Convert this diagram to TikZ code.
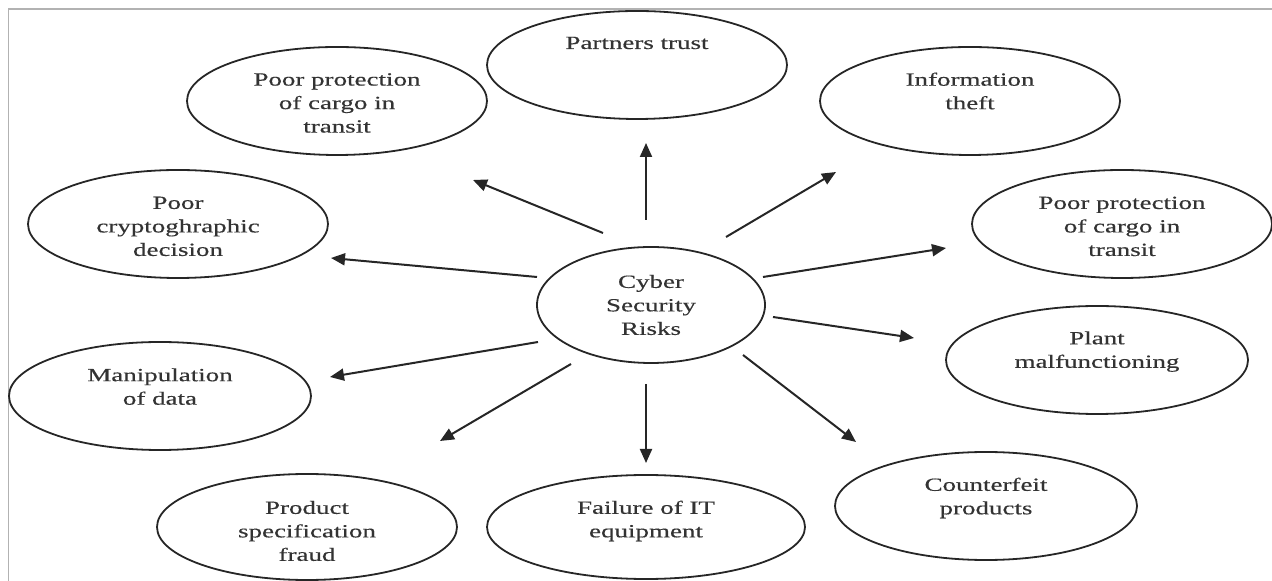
\documentclass[tikz,border=0pt]{standalone}
\usepackage{fontspec}
\setmainfont{Liberation Serif}[FakeStretch=1.45, FakeBold=0.4]
\usetikzlibrary{arrows.meta,shapes.geometric}

\begin{document}
\begin{tikzpicture}[x=0.5pt, y=-0.5pt,
    risk/.style={draw=black!85, ellipse, line width=0.9pt, inner sep=0pt,
      minimum width=150pt, minimum height=54pt},
    txt/.style={align=center, text=black!80, font=\fontsize{9.3}{11.75}\selectfont},
    arr/.style={-{Triangle[length=7pt,width=6pt]}, line width=1pt, draw=black!85}]

    \useasboundingbox (0,0) rectangle (1272,581);

    % frame
    \draw[gray!60, line width=0.8pt] (8.5,581) -- (8.5,9) -- (1272,9);

    % centre
    \node[risk, minimum width=114pt, minimum height=58pt,
      label={[txt, name=cyber-t]center:Cyber\\Security\\Risks}] (cyber) at (651,305) {};

    % risks around the centre
    \node[risk, label={[txt, yshift=11pt, name=trust-t]center:Partners trust}] (trust) at (637,65) {};
    \node[risk, label={[txt, yshift=-1pt, name=cargo1-t]center:Poor protection\\of cargo in\\transit}] (cargo1) at (337,101) {};
    \node[risk, label={[txt, yshift=5pt, name=theft-t]center:Information\\theft}] (theft) at (970,101) {};
    \node[risk, label={[txt, yshift=-1.2pt, name=crypto-t]center:Poor\\cryptoghraphic\\decision}] (crypto) at (178,224) {};
    \node[risk, label={[txt, yshift=-1.2pt, name=cargo2-t]center:Poor protection\\of cargo in\\transit}] (cargo2) at (1122,224) {};
    \node[risk, minimum width=151pt, label={[txt, yshift=4.2pt, name=plant-t]center:Plant\\malfunctioning}] (plant) at (1097,360) {};
    \node[risk, minimum width=151pt, label={[txt, yshift=4.7pt, name=manip-t]center:Manipulation\\of data}] (manip) at (160,396) {};
    \node[risk, minimum width=151pt, label={[txt, yshift=4pt, name=fake-t]center:Counterfeit\\products}] (fake) at (986,506) {};
    \node[risk, minimum height=53pt, label={[txt, yshift=-2pt, name=fraud-t]center:Product\\specification\\fraud}] (fraud) at (307,527) {};
    \node[risk, minimum width=159pt, minimum height=52pt, label={[txt, yshift=3pt, name=fail-t]center:Failure of IT\\equipment}] (fail) at (646,527) {};

    % arrow ends
    \coordinate (trust-s) at (646,220);  \coordinate (trust-e) at (646,143);
    \coordinate (theft-s) at (726,237);  \coordinate (theft-e) at (836,172);
    \coordinate (cargo2-s) at (763,277); \coordinate (cargo2-e) at (946,248);
    \coordinate (plant-s) at (773,317);  \coordinate (plant-e) at (914,338);
    \coordinate (fake-s) at (743,355);   \coordinate (fake-e) at (856,442);
    \coordinate (fail-s) at (646,384);   \coordinate (fail-e) at (646,463);
    \coordinate (fraud-s) at (571,364);  \coordinate (fraud-e) at (440,441);
    \coordinate (manip-s) at (538,342);  \coordinate (manip-e) at (330,377);
    \coordinate (crypto-s) at (537,277); \coordinate (crypto-e) at (331,258);
    \coordinate (cargo1-s) at (603,233); \coordinate (cargo1-e) at (473,180);

    % arrows
    \draw[arr] (trust-s) -- (trust-e);
    \draw[arr] (theft-s) -- (theft-e);
    \draw[arr] (cargo2-s) -- (cargo2-e);
    \draw[arr] (plant-s) -- (plant-e);
    \draw[arr] (fake-s) -- (fake-e);
    \draw[arr] (fail-s) -- (fail-e);
    \draw[arr] (fraud-s) -- (fraud-e);
    \draw[arr] (manip-s) -- (manip-e);
    \draw[arr] (crypto-s) -- (crypto-e);
    \draw[arr] (cargo1-s) -- (cargo1-e);

\end{tikzpicture}
\end{document}
